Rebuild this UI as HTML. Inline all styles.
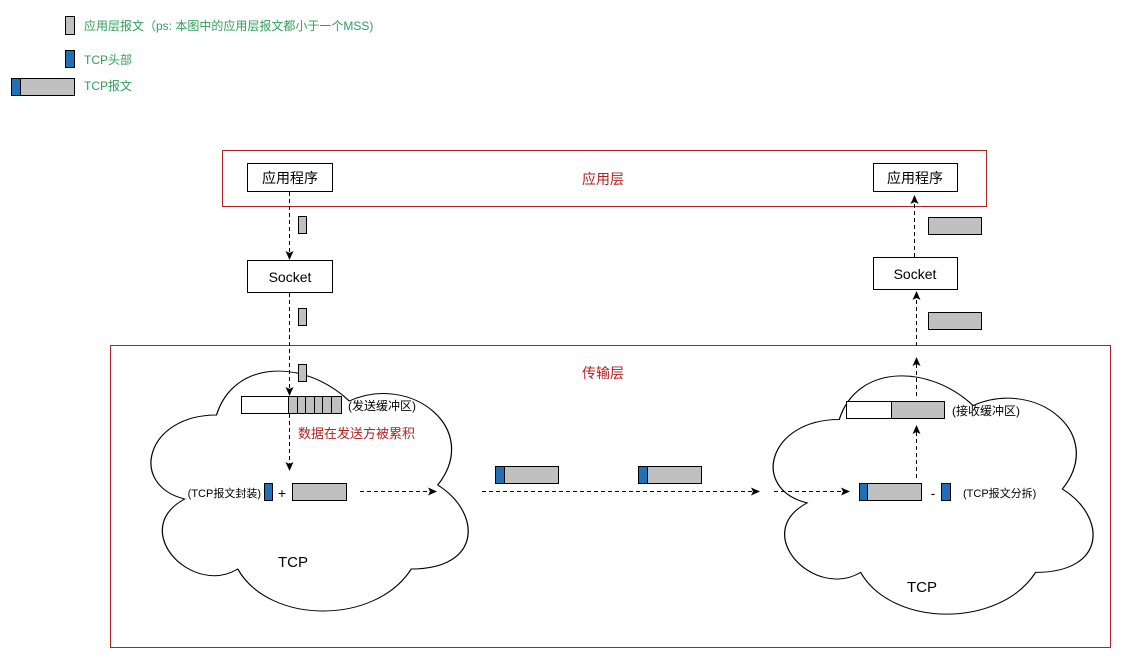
<!DOCTYPE html>
<html><head><meta charset="utf-8"><style>
body{margin:0;background:#fff}
svg{display:block}
text{font-family:"Liberation Sans","Noto Sans CJK SC",sans-serif}
</style></head><body>
<svg width="1131" height="659" viewBox="0 0 1131 659" xmlns="http://www.w3.org/2000/svg">
<defs>
<marker id="a" markerWidth="10" markerHeight="10" refX="8" refY="4" orient="auto" markerUnits="userSpaceOnUse"><path d="M0,0 L9,4 L0,8 L2,4 Z" fill="#000"/></marker>
<path id="cloud" d="M0.25,0.25 C0.05,0.25 0,0.5 0.16,0.55 C0,0.66 0.18,0.9 0.31,0.8 C0.4,1 0.7,1 0.8,0.8 C1,0.8 1,0.6 0.875,0.5 C1,0.3 0.8,0.1 0.625,0.2 C0.5,0.05 0.3,0.05 0.25,0.25 Z"/>
</defs>
<!-- legend -->
<rect x="65.5" y="16.5" width="9" height="18" fill="#c0c0c0" stroke="#000"/>
<text x="84" y="30" font-size="12" fill="#2e9e5b">应用层报文（ps: 本图中的应用层报文都小于一个MSS)</text>
<rect x="65.5" y="50.5" width="9" height="17" fill="#2070b8" stroke="#000"/>
<text x="84" y="64" font-size="12" fill="#2e9e5b">TCP头部</text>
<rect x="11.5" y="78.5" width="63" height="17" fill="#c0c0c0" stroke="#000"/>
<rect x="11.5" y="78.5" width="9" height="17" fill="#2070b8" stroke="#000"/>
<text x="84" y="90" font-size="12" fill="#2e9e5b">TCP报文</text>
<!-- layers -->
<rect x="222.5" y="150.5" width="764" height="56" fill="none" stroke="#b22222"/>
<text x="603" y="184" font-size="14" fill="#b22222" text-anchor="middle">应用层</text>
<rect x="110.5" y="345.5" width="1000" height="302" fill="none" stroke="#b22222"/>
<!-- clouds -->
<g transform="translate(128,345) scale(354,280)"><use href="#cloud" fill="#fff" stroke="#000" stroke-width="0.0035" vector-effect="non-scaling-stroke"/></g>
<g transform="translate(750,350) scale(357,278)"><use href="#cloud" fill="#fff" stroke="#000" stroke-width="0.0035" vector-effect="non-scaling-stroke"/></g>
<text x="603" y="378" font-size="14" fill="#b22222" text-anchor="middle">传输层</text>
<!-- boxes -->
<rect x="247.5" y="163.5" width="85" height="28" fill="#fff" stroke="#000"/>
<text x="290" y="183" font-size="14" text-anchor="middle">应用程序</text>
<rect x="873.5" y="163.5" width="84" height="28" fill="#fff" stroke="#000"/>
<text x="915" y="183" font-size="14" text-anchor="middle">应用程序</text>
<rect x="247.5" y="260.5" width="85" height="32" fill="#fff" stroke="#000"/>
<text x="290" y="282" font-size="14" text-anchor="middle">Socket</text>
<rect x="873.5" y="257.5" width="84" height="32" fill="#fff" stroke="#000"/>
<text x="915" y="279" font-size="14" text-anchor="middle">Socket</text>
<!-- left arrows -->
<g stroke="#000" stroke-dasharray="4,3" fill="none" marker-end="url(#a)">
<line x1="289.5" y1="192" x2="289.5" y2="259"/>
<line x1="289.5" y1="293" x2="289.5" y2="395"/>
<line x1="289.5" y1="414" x2="289.5" y2="470"/>
<line x1="360" y1="491.5" x2="436" y2="491.5"/>
<line x1="482" y1="491.5" x2="759" y2="491.5"/>
<line x1="774" y1="491.5" x2="849" y2="491.5"/>
<line x1="916.5" y1="478" x2="916.5" y2="426"/>
<line x1="916.5" y1="396" x2="916.5" y2="358"/>
<line x1="916.5" y1="346" x2="916.5" y2="292"/>
<line x1="914.5" y1="257" x2="914.5" y2="196"/>
</g>
<g fill="#c0c0c0" stroke="#000">
<rect x="298.5" y="216.5" width="8" height="17"/>
<rect x="298.5" y="308.5" width="8" height="17"/>
<rect x="298.5" y="364.5" width="8" height="17"/>
<rect x="928.5" y="217.5" width="53" height="17"/>
<rect x="928.5" y="312.5" width="53" height="17"/>
</g>
<!-- send buffer -->
<rect x="241.5" y="396.5" width="47" height="17" fill="#fff" stroke="#000"/>
<rect x="288.5" y="396.5" width="53" height="17" fill="#c0c0c0" stroke="#000"/>
<g stroke="#000"><line x1="297.5" y1="397" x2="297.5" y2="413"/><line x1="305.5" y1="397" x2="305.5" y2="413"/><line x1="314.5" y1="397" x2="314.5" y2="413"/><line x1="322.5" y1="397" x2="322.5" y2="413"/><line x1="331.5" y1="397" x2="331.5" y2="413"/></g>
<text x="348" y="410" font-size="12">(发送缓冲区)</text>
<text x="298" y="438" font-size="13" fill="#b22222">数据在发送方被累积</text>
<text x="261" y="497" font-size="11" text-anchor="end">(TCP报文封装)</text>
<rect x="264.5" y="483.5" width="8" height="17" fill="#2070b8" stroke="#000"/>
<text x="282" y="498" font-size="14" text-anchor="middle">+</text>
<rect x="292.5" y="483.5" width="54" height="17" fill="#c0c0c0" stroke="#000"/>
<text x="293" y="567" font-size="15" text-anchor="middle">TCP</text>
<!-- middle packets -->
<rect x="495.5" y="466.5" width="63" height="17" fill="#c0c0c0" stroke="#000"/>
<rect x="495.5" y="466.5" width="9" height="17" fill="#2070b8" stroke="#000"/>
<rect x="638.5" y="466.5" width="63" height="17" fill="#c0c0c0" stroke="#000"/>
<rect x="638.5" y="466.5" width="9" height="17" fill="#2070b8" stroke="#000"/>
<!-- right -->
<rect x="846.5" y="401.5" width="45" height="17" fill="#fff" stroke="#000"/>
<rect x="891.5" y="401.5" width="53" height="17" fill="#c0c0c0" stroke="#000"/>
<text x="952" y="415" font-size="12">(接收缓冲区)</text>
<rect x="859.5" y="483.5" width="62" height="17" fill="#c0c0c0" stroke="#000"/>
<rect x="859.5" y="483.5" width="8" height="17" fill="#2070b8" stroke="#000"/>
<text x="933" y="498" font-size="14" text-anchor="middle">-</text>
<rect x="941.5" y="483.5" width="9" height="17" fill="#2070b8" stroke="#000"/>
<text x="963" y="497" font-size="11">(TCP报文分拆)</text>
<text x="922" y="592" font-size="15" text-anchor="middle">TCP</text>
</svg>
</body></html>
